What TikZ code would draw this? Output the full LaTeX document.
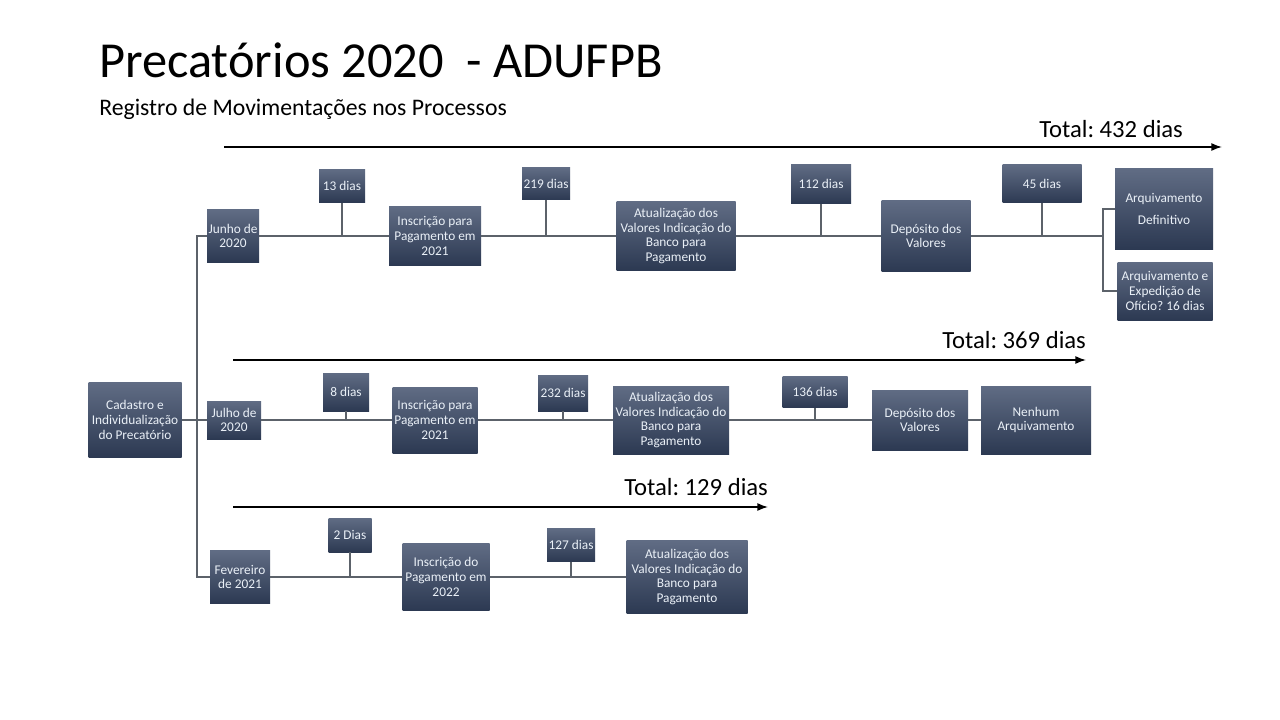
\documentclass[tikz,border=0pt]{standalone}
\usepackage{fontspec}
\setmainfont{Carlito}
\usepackage{tikz}
\usetikzlibrary{arrows.meta,positioning}
\definecolor{boxtop}{RGB}{96,108,132}
\definecolor{boxbot}{RGB}{44,57,82}
\definecolor{linegray}{RGB}{92,98,106}
\definecolor{boxtext}{RGB}{234,240,247}
\frenchspacing

\begin{document}
\begin{tikzpicture}[
          x=0.75pt, y=-0.75pt,
          box/.style 2 args={rectangle, top color=boxtop, bottom color=boxbot,
            text=boxtext, align=center, inner sep=1pt,
            font=\fontsize{10}{11}\selectfont,
            minimum width=#1*0.75pt, minimum height=#2*0.75pt},
          conn/.style={draw=linegray, line width=0.9pt},
          tot/.style={draw=black, line width=1.1pt, -{Latex[length=8pt,width=6pt]}},
          totlabel/.style={anchor=base west, inner sep=0pt, font=\fontsize{18.5}{22}\selectfont}
        ]

        \fill[white] (0,0) rectangle (1280,720);
        \useasboundingbox (0,0) rectangle (1280,720);

        % Title
        \node[anchor=base west, inner sep=0pt, font=\fontsize{37.8}{45}\selectfont] (title) at (99,78) {Precatórios 2020\ \ - ADUFPB};
        \node[anchor=base west, inner sep=0pt, font=\fontsize{17.8}{21}\selectfont] (subtitle) at (99,116) {Registro de Movimentações nos Processos};

        % Totals
        \coordinate (t1a) at (224,147);
        \coordinate (t1b) at (1222,147);
        \draw[tot] (t1a) -- (t1b);
        \node[totlabel] (tot1) at (1039,138) {Total: 432 dias};
        \coordinate (t2a) at (233,360);
        \coordinate (t2b) at (1086,360);
        \draw[tot] (t2a) -- (t2b);
        \node[totlabel] (tot2) at (942,348) {Total: 369 dias};
        \coordinate (t3a) at (233,507);
        \coordinate (t3b) at (768,507);
        \draw[tot] (t3a) -- (t3b);
        \node[totlabel] (tot3) at (624,495) {Total: 129 dias};

        % Start
        \node[box={93}{75}] (cad) at (135,420) {Cadastro e\\Individualização\\do Precatório};
        \coordinate (trunk) at (197,420);

        % First process (Junho de 2020)
        \node[box={52}{53}] (jun) at (233,236) {Junho de\\2020};
        \node[box={46}{33}] (d13) at (342,186) {13 dias};
        \node[box={92}{59}] (insc1) at (435,236) {Inscrição para\\Pagamento em\\2021};
        \node[box={48}{32}] (d219) at (546,184) {219 dias};
        \node[box={119}{68}] (atu1) at (676,236) {Atualização dos\\Valores Indicação do\\Banco para\\Pagamento};
        \node[box={60}{39}] (d112) at (821,184) {112 dias};
        \node[box={89}{71}] (dep1) at (926,236) {Depósito dos\\Valores};
        \node[box={79}{38}] (d45) at (1042,184) {45 dias};
        \node[box={98}{80}] (arq1) at (1164,209) {Arquivamento\\[5pt]Definitivo};
        \node[box={95}{58}] (arq2) at (1165,291) {Arquivamento e\\Expedição de\\Ofício? 16 dias};
        \coordinate (fork) at (1103,236);

        % Second process (Julho de 2020)
        \node[box={54}{38}] (jul) at (234,420) {Julho de\\2020};
        \node[box={46}{38}] (d8) at (346,392) {8 dias};
        \node[box={85}{66}] (insc2) at (435,420) {Inscrição para\\Pagamento em\\2021};
        \node[box={50}{36}] (d232) at (563,393) {232 dias};
        \node[box={116}{68}] (atu2) at (671,420) {Atualização dos\\Valores Indicação do\\Banco para\\Pagamento};
        \node[box={65}{31}] (d136) at (815,392) {136 dias};
        \node[box={96}{60}] (dep2) at (920,420) {Depósito dos\\Valores};
        \node[box={110}{68}] (nen) at (1036,420) {Nenhum\\Arquivamento};

        % Third process (Fevereiro de 2021)
        \node[box={60}{53}] (fev) at (240,577) {Fevereiro\\de 2021};
        \node[box={43}{34}] (d2) at (350,535) {2 Dias};
        \node[box={87}{67}] (insc3) at (446,577) {Inscrição do\\Pagamento em\\2022};
        \node[box={48}{33}] (d127) at (571,545) {127 dias};
        \node[box={121}{73}] (atu3) at (687,577) {Atualização dos\\Valores Indicação do\\Banco para\\Pagamento};

        % Connectors
        \draw[conn] (cad) -- (trunk) -- (jul);
        \draw[conn] (trunk) |- (jun);
        \draw[conn] (trunk) |- (fev);

        \draw[conn] (jun) -- (insc1) -- (atu1) -- (dep1) -- (fork);
        \draw[conn] (fork) |- (arq1);
        \draw[conn] (fork) |- (arq2);
        \draw[conn] (d13) -- (d13 |- jun);
        \draw[conn] (d219) -- (d219 |- jun);
        \draw[conn] (d112) -- (d112 |- jun);
        \draw[conn] (d45) -- (d45 |- jun);

        \draw[conn] (jul) -- (insc2) -- (atu2) -- (dep2) -- (nen);
        \draw[conn] (d8) -- (d8 |- jul);
        \draw[conn] (d232) -- (d232 |- jul);
        \draw[conn] (d136) -- (d136 |- jul);

        \draw[conn] (fev) -- (insc3) -- (atu3);
        \draw[conn] (d2) -- (d2 |- fev);
        \draw[conn] (d127) -- (d127 |- fev);

      \end{tikzpicture}
\end{document}
